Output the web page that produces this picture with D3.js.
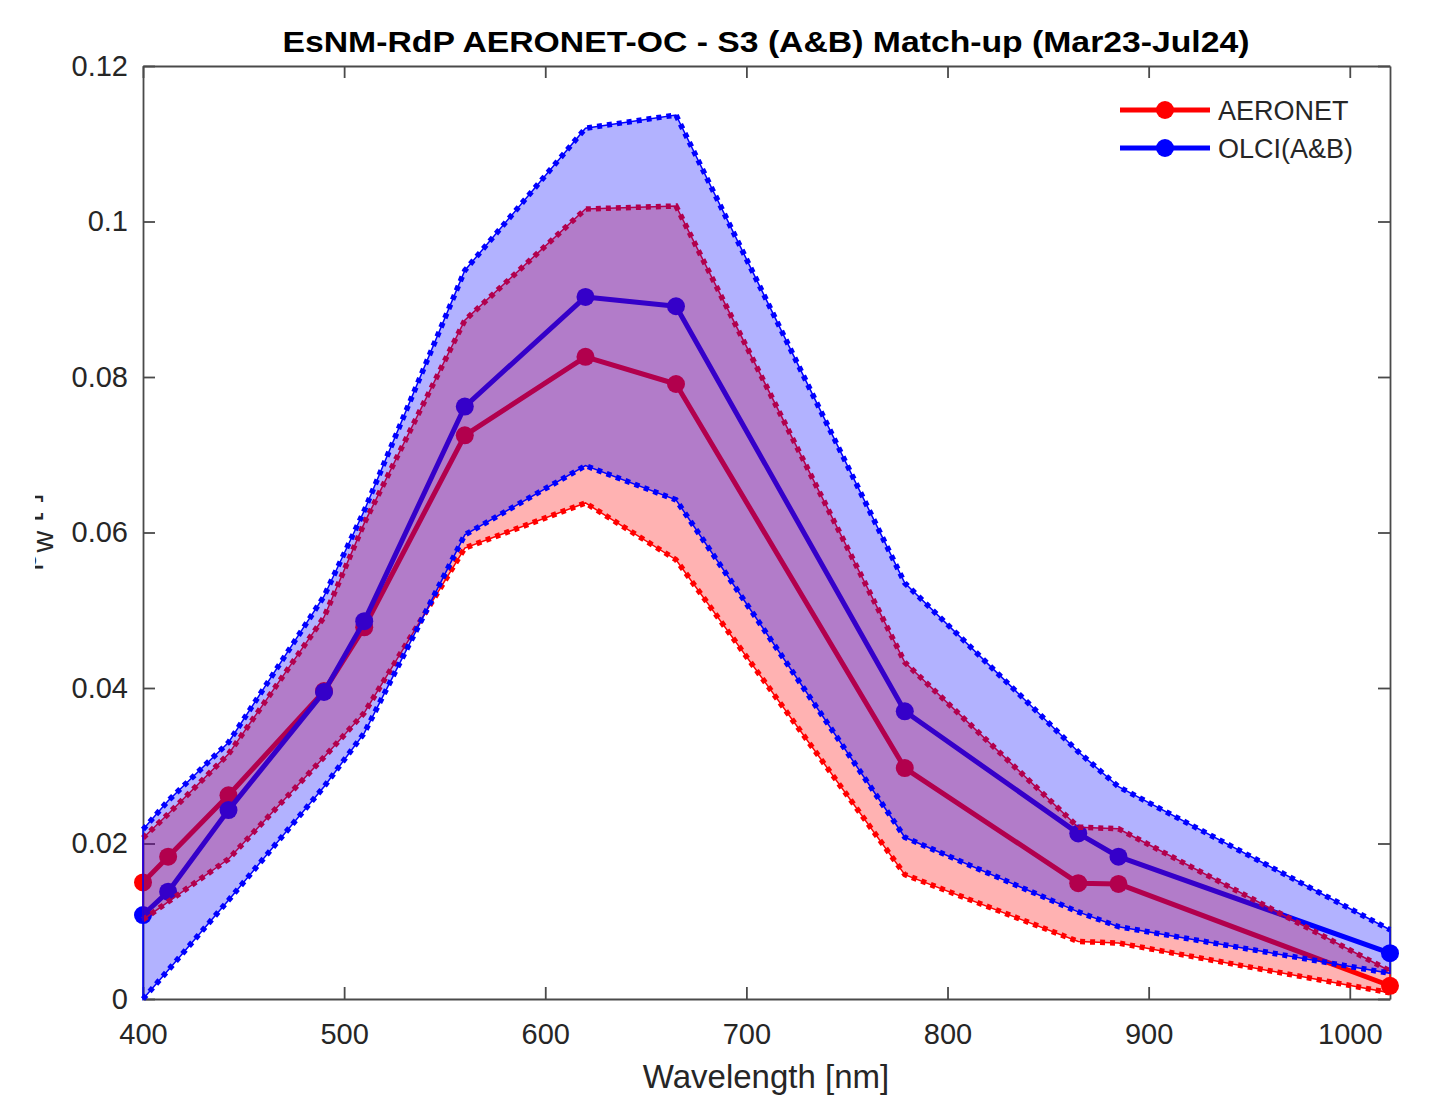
<!DOCTYPE html>
<html lang="en">
<head>
<meta charset="utf-8">
<title>EsNM-RdP AERONET-OC - S3 match-up</title>
<script src="https://cdn.jsdelivr.net/npm/d3@7"></script>
<style>
  body { margin: 0; background: #fff; }
  text { font-family: "Liberation Sans", Arial, Helvetica, sans-serif; fill: #262626; }
  .axis path, .axis line { stroke: #4a4a4a; stroke-width: 1.8px; }
  .axis text { font-size: 29px; fill: #262626; }
</style>
</head>
<body>
<div id="chart"></div>
<script>
// wavelengths of the OLCI / AERONET-OC bands [nm]
var wavelengths = [400, 412.5, 442.5, 490, 510, 560, 620, 665, 778.75, 865, 885, 1020];

// AERONET mean and +/- band
var aeronetMean  = [0.0150, 0.0183, 0.0262, 0.0396, 0.0478, 0.0725, 0.0826, 0.0791, 0.0297, 0.0149, 0.0148, 0.0017];
var aeronetUpper = [0.0207, 0.0238, 0.0315, 0.0491, 0.0612, 0.0873, 0.1016, 0.1020, 0.0433, 0.0221, 0.0219, 0.0036];
var aeronetLower = [0.0102, 0.0125, 0.0180, 0.0311, 0.0368, 0.0580, 0.0638, 0.0565, 0.0160, 0.0074, 0.0072, 0.0008];

// OLCI (A&B) mean and +/- band
var olciMean  = [0.0108, 0.0138, 0.0243, 0.0395, 0.0486, 0.0762, 0.0903, 0.0891, 0.0370, 0.0213, 0.0183, 0.0059];
var olciUpper = [0.0218, 0.0255, 0.0330, 0.0518, 0.0628, 0.0937, 0.1120, 0.1137, 0.0535, 0.0318, 0.0273, 0.0089];
var olciLower = [0.0000, 0.0037, 0.0127, 0.0273, 0.0342, 0.0597, 0.0686, 0.0642, 0.0208, 0.0112, 0.0093, 0.0033];

var xTicks = [400, 500, 600, 700, 800, 900, 1000];
var yTicks = [0, 0.02, 0.04, 0.06, 0.08, 0.1, 0.12];
var seriesNames = ["AERONET", "OLCI(A&B)"];

var width = 1451, height = 1106;
var svg = d3.select("#chart").append("svg")
    .attr("width", width)
    .attr("height", height);

svg.append("rect").attr("width", width).attr("height", height).attr("fill", "#fff");

var x = d3.scaleLinear().domain([400, 1020]).range([143, 1390]);
var y = d3.scaleLinear().domain([0, 0.12]).range([999, 66]);

var yFmt = function(d) { return d === 0 ? "0" : String(+d.toFixed(2)); };

// axes (drawn under the data, like matlab's default layer)
svg.append("g").attr("class", "axis")
    .attr("transform", "translate(0,999)")
    .call(d3.axisBottom(x).tickValues(xTicks).tickSizeInner(-12).tickSizeOuter(0).tickPadding(24).tickFormat(d3.format("d")));
svg.append("g").attr("class", "axis")
    .attr("transform", "translate(0,66)")
    .call(d3.axisTop(x).tickValues(xTicks).tickSizeInner(-12).tickSizeOuter(0).tickFormat(""));
svg.append("g").attr("class", "axis")
    .attr("transform", "translate(143,0)")
    .call(d3.axisLeft(y).tickValues(yTicks).tickSizeInner(-12).tickSizeOuter(0).tickPadding(15).tickFormat(yFmt));
svg.append("g").attr("class", "axis")
    .attr("transform", "translate(1390,0)")
    .call(d3.axisRight(y).tickValues(yTicks).tickSizeInner(-12).tickSizeOuter(0).tickFormat(""));
svg.selectAll(".axis text").attr("font-family", null);

function pts(arr) {
  return arr.map(function(v, i) { return [x(wavelengths[i]), y(v)]; });
}
var line = d3.line();

function meanLine(vals, col) {
  svg.append("path")
    .attr("d", line(pts(vals)))
    .attr("fill", "none")
    .attr("stroke", col)
    .attr("stroke-width", 5)
    .attr("stroke-linejoin", "round");
  svg.append("g").selectAll("circle")
    .data(pts(vals))
    .enter().append("circle")
    .attr("cx", function(d) { return d[0]; })
    .attr("cy", function(d) { return d[1]; })
    .attr("r", 9)
    .attr("fill", col);
}

function band(upper, lower, col) {
  var poly = pts(upper).concat(pts(lower).reverse());
  svg.append("path")
    .attr("d", line(poly) + "Z")
    .attr("fill", col)
    .attr("fill-opacity", 0.3)
    .attr("stroke", col)
    .attr("stroke-width", 1.5);
  [upper, lower].forEach(function(edge) {
    svg.append("path")
      .attr("d", line(pts(edge)))
      .attr("fill", "none")
      .attr("stroke", col)
      .attr("stroke-width", 5.5)
      .attr("stroke-dasharray", "5,5");
  });
}

meanLine(aeronetMean, "#ff0000");
meanLine(olciMean, "#0000ff");
band(aeronetUpper, aeronetLower, "#ff0000");
band(olciUpper, olciLower, "#0000ff");

// title
svg.append("text")
    .attr("x", 766).attr("y", 52)
    .attr("text-anchor", "middle")
    .attr("font-weight", "bold")
    .attr("font-size", 30)
    .attr("textLength", 967)
    .attr("lengthAdjust", "spacingAndGlyphs")
    .style("fill", "#000")
    .text("EsNM-RdP AERONET-OC - S3 (A&B) Match-up (Mar23-Jul24)");

// x label
svg.append("text")
    .attr("x", 766).attr("y", 1088)
    .attr("text-anchor", "middle")
    .attr("font-size", 33)
    .text("Wavelength [nm]");

// y label, cut by the figure's left edge in the original
svg.append("clipPath").attr("id", "ylabClip")
  .append("rect").attr("x", 35).attr("y", 400).attr("width", 40).attr("height", 250);
var ylab = svg.append("g").attr("clip-path", "url(#ylabClip)")
  .append("text")
    .attr("transform", "translate(36,532) rotate(-90)")
    .attr("text-anchor", "middle")
    .attr("font-size", 32);
ylab.append("tspan").text("\u03c1");
ylab.append("tspan").attr("dy", 17).attr("font-size", 30).text("w");
ylab.append("tspan").attr("dy", -17).text(" [-]");

// legend
var legCols = ["#ff0000", "#0000ff"];
var leg = svg.append("g").selectAll("g")
    .data(seriesNames)
    .enter().append("g")
    .attr("transform", function(d, i) { return "translate(0," + (110 + i * 38) + ")"; });
leg.append("line")
    .attr("x1", 1120).attr("x2", 1210)
    .attr("stroke", function(d, i) { return legCols[i]; })
    .attr("stroke-width", 5);
leg.append("circle")
    .attr("cx", 1165).attr("r", 9)
    .attr("fill", function(d, i) { return legCols[i]; });
leg.append("text")
    .attr("x", 1218).attr("dy", "0.36em")
    .attr("font-size", 27)
    .text(function(d) { return d; });
</script>
</body>
</html>
